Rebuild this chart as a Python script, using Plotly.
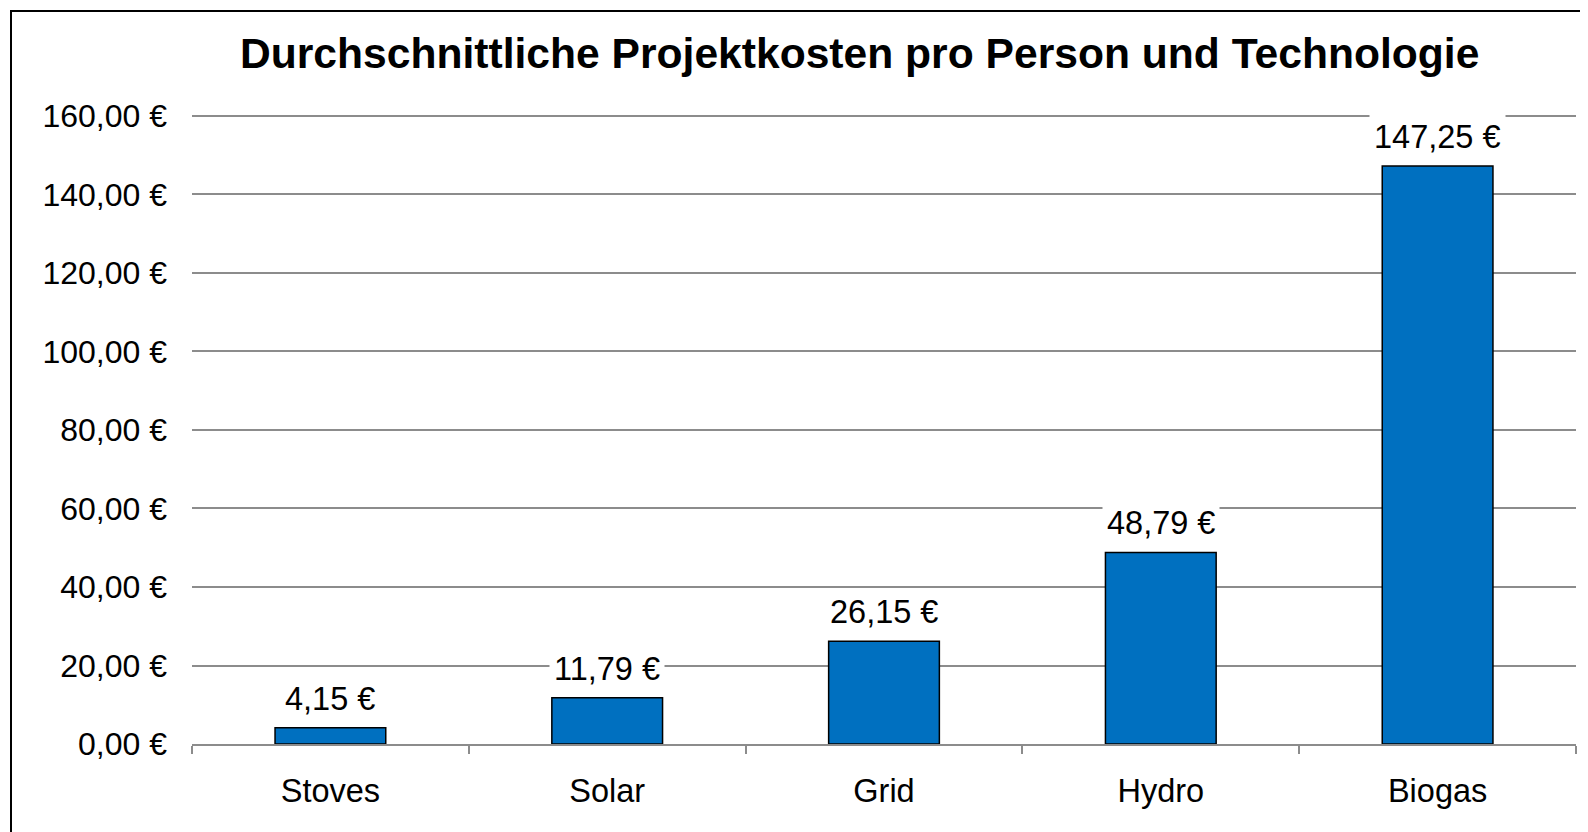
import plotly.graph_objects as go

categories = ["Stoves", "Solar", "Grid", "Hydro", "Biogas"]
costs = [4.15, 11.79, 26.15, 48.79, 147.25]
y_tick_values = [0, 20, 40, 60, 80, 100, 120, 140, 160]
y_tick_labels = ["0,00 €", "20,00 €", "40,00 €", "60,00 €", "80,00 €",
                 "100,00 €", "120,00 €", "140,00 €", "160,00 €"]
title_text = "Durchschnittliche Projektkosten pro Person und Technologie"

FONT = "Liberation Sans, Arial, sans-serif"
OFF = 8  # browser body margin
W, H = 1588 - OFF, 832 - OFF
Y_MAX = 160.5
# reference pixel positions (window coords)
PLOT_LEFT, PLOT_RIGHT, Y0_PX, Y160_PX = 192, 1576, 744, 116
px_per_unit = (Y0_PX - Y160_PX) / 160.0
top_px = Y0_PX - px_per_unit * Y_MAX
L = PLOT_LEFT - OFF
R = W - (PLOT_RIGHT - OFF)
B = H - (Y0_PX - OFF)
T = round(top_px - OFF)
PW, PH = W - L - R, H - T - B

def px_x(px):
    return (px - OFF - L) / PW

def px_y(py):
    return (H - B - (py - OFF)) / PH

fig = go.Figure()
fig.add_trace(go.Bar(
    x=categories, y=costs,
    marker=dict(color="#0070C0", line=dict(color="#000000", width=1.5)),
    hoverinfo="skip",
))

for c, v in zip(categories, costs):
    fig.add_annotation(
        x=c, y=v, xref="x", yref="y",
        text=f"{v:.2f} €".replace(".", ","),
        showarrow=False, yanchor="bottom", yshift=6,
        bgcolor="white", borderpad=4,
        font=dict(family=FONT, size=32.5, color="#000000"),
    )

fig.add_annotation(
    x=px_x(859), y=px_y(53), xref="paper", yref="paper",
    text=f"<b>{title_text}</b>", showarrow=False,
    xanchor="center", yanchor="middle",
    font=dict(family=FONT, size=42.6, color="#000000"),
)

fig.add_shape(type="rect", xref="paper", yref="paper",
              x0=px_x(11), x1=px_x(1700), y0=px_y(900), y1=px_y(11),
              line=dict(color="#000000", width=2), fillcolor="rgba(0,0,0,0)",
              layer="above")

fig.update_layout(
    width=W, height=H,
    margin=dict(l=L, r=R, t=T, b=B),
    paper_bgcolor="white", plot_bgcolor="white",
    bargap=0.6, showlegend=False,
    font=dict(family=FONT, size=32, color="#000000"),
)
fig.update_xaxes(
    showgrid=False, showline=True, linecolor="#8c8c8c", linewidth=2,
    ticks="outside", tickson="boundaries", ticklen=8, tickcolor="#8c8c8c", tickwidth=2,
    tickfont=dict(family=FONT, size=32.5, color="#000000"),
    ticklabelstandoff=17,
)
fig.update_yaxes(
    range=[0, Y_MAX], tickvals=y_tick_values, ticktext=y_tick_labels,
    showgrid=True, gridcolor="#8c8c8c", gridwidth=1.5,
    zeroline=False, showline=False, ticks="",
    tickfont=dict(family=FONT, size=32, color="#000000"),
    ticklabelstandoff=24,
)

fig.write_html("out.html")
